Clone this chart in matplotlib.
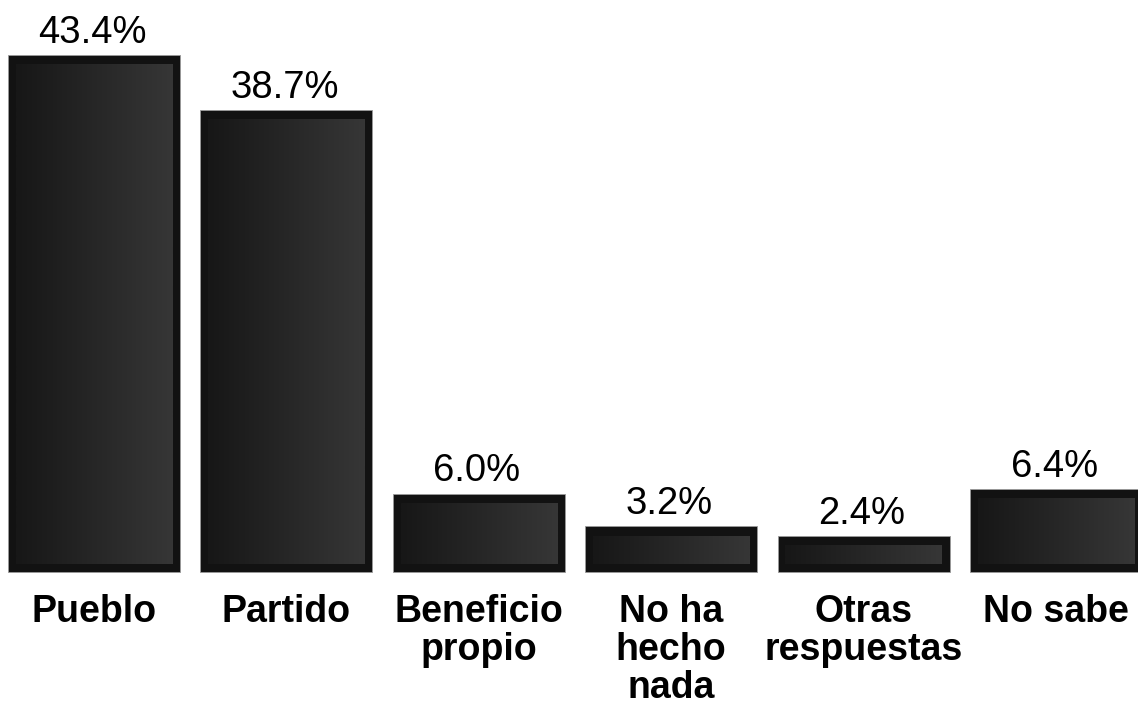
import numpy as np
import matplotlib.pyplot as plt

# survey results
categories = ["Pueblo", "Partido", "Beneficio\npropio", "No ha\nhecho\nnada",
              "Otras\nrespuestas", "No sabe"]
values = [43.4, 38.7, 6.0, 3.2, 2.4, 6.4]
labels = ["43.4%", "38.7%", "6.0%", "3.2%", "2.4%", "6.4%"]

plt.rcParams['font.family'] = ['Liberation Sans', 'DejaVu Sans']

fig = plt.figure(figsize=(11.38, 7.19), dpi=100)
ax = fig.add_axes([0, 0, 1, 1])
ax.axis('off')

width = 0.894
pad_x = 0.04    # border, x units
pad_y = 0.75    # border, y units
base = -0.68    # bars reach a bit below zero
grad = np.linspace(0, 1, 64).reshape(1, -1)
cmap = plt.matplotlib.colors.LinearSegmentedColormap.from_list(
    'g', ['#171717', '#363636'])

x = np.arange(len(values))
ax.bar(x, np.array(values) - base, width=width, bottom=base,
       color='#121212', edgecolor='#9a9a9a', linewidth=0.6, zorder=1)

for i, v in enumerate(values):
    x0 = i - width / 2 + pad_x
    x1 = i + width / 2 - pad_x
    ax.imshow(grad, cmap=cmap, aspect='auto', interpolation='bilinear',
              extent=[x0, x1, 0, v - pad_y - 0.1], zorder=2)
    ax.text(i - 0.01, v + 1.05, labels[i], ha='center', va='baseline',
            fontsize=27.5, color='black')
    ax.text(i, -2.55, categories[i], ha='center', va='top',
            fontsize=27, fontweight='bold', linespacing=1.08)

ax.set_xlim(-0.4886, 5.426)
ax.set_ylim(-13.21, 48.08)

fig.savefig('out.png', dpi=100, facecolor='white')
